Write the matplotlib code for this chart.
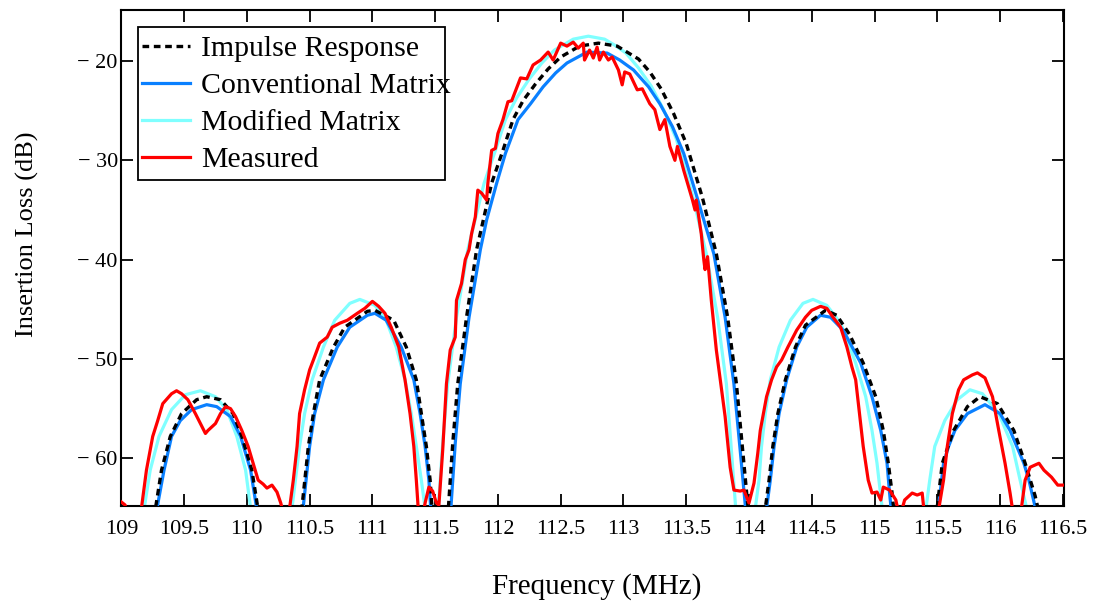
import matplotlib
matplotlib.use("Agg")
import matplotlib.pyplot as plt
from matplotlib.patches import Rectangle

plt.rcParams['font.family'] = ['Liberation Serif', 'DejaVu Serif']

# values; -66 means the trace is below the bottom of the axis
freq_impulse = [109.26, 109.32, 109.39, 109.48, 109.60, 109.68, 109.79, 109.89, 109.96, 110.04, 110.10,
                110.43, 110.49, 110.53, 110.58, 110.69, 110.78, 110.96, 111.02, 111.17, 111.27, 111.35, 111.39, 111.43, 111.46, 111.48,
                111.60, 111.64, 111.68, 111.75, 111.83, 111.95, 112.04, 112.12, 112.20, 112.30, 112.40, 112.50, 112.65, 112.80, 112.95,
                113.12, 113.21, 113.30, 113.40, 113.50, 113.63, 113.74, 113.83, 113.90, 113.95, 114.00,
                114.12, 114.16, 114.19, 114.23, 114.29, 114.37, 114.45, 114.61, 114.70, 114.80, 114.91, 115.01, 115.07, 115.11, 115.14, 115.16,
                115.49, 115.54, 115.63, 115.74, 115.84, 115.98, 116.11, 116.20, 116.28, 116.32]
loss_impulse = [-66, -61.2, -57.8, -55.5, -54.1, -53.8, -54.1, -55.5, -57.8, -61.2, -66,
                -66, -58.8, -55.5, -52.1, -48.8, -46.8, -45.2, -45.1, -46.1, -48.8, -52.1, -55.5, -58.8, -62.2, -66,
                -66, -58.5, -52.5, -45.8, -39.0, -32.3, -29.0, -25.9, -24.0, -22.3, -20.8, -19.6, -18.5, -18.2, -18.5,
                -19.8, -21.1, -22.8, -25.3, -28.3, -33.8, -39.4, -45.8, -52.5, -59.2, -66,
                -66, -62.2, -58.8, -55.5, -52.1, -48.8, -46.6, -45.1, -45.6, -47.5, -50.4, -53.8, -57.2, -60.5, -63.5, -66,
                -66, -60.5, -57.2, -54.8, -53.8, -54.5, -57.2, -60.5, -63.8, -66]

freq_conventional = [109.27, 109.34, 109.40, 109.47, 109.56, 109.68, 109.76, 109.87, 109.95, 110.03, 110.09,
                     110.44, 110.50, 110.54, 110.61, 110.72, 110.82, 110.96, 111.02, 111.11, 111.23, 111.33, 111.38, 111.42, 111.45, 111.47,
                     111.62, 111.66, 111.70, 111.77, 111.86, 111.91, 111.99, 112.06, 112.16, 112.26, 112.36, 112.46, 112.55, 112.71, 112.87,
                     112.97, 113.08, 113.20, 113.29, 113.39, 113.48, 113.60, 113.72, 113.81, 113.88, 113.93, 113.98,
                     114.13, 114.17, 114.20, 114.24, 114.30, 114.38, 114.46, 114.57, 114.65, 114.75, 114.89, 114.98, 115.05, 115.10, 115.12, 115.14,
                     115.50, 115.55, 115.59, 115.64, 115.74, 115.88, 116.00, 116.08, 116.19, 116.23, 116.30]
loss_conventional = [-66, -61.2, -57.8, -56.2, -55.1, -54.6, -54.8, -55.8, -57.8, -61.2, -66,
                     -66, -58.8, -55.5, -52.1, -48.8, -46.8, -45.6, -45.4, -46.1, -48.8, -52.1, -55.5, -58.8, -62.2, -66,
                     -66, -58.5, -52.5, -45.8, -39.0, -36.0, -32.3, -29.3, -25.9, -24.3, -22.6, -21.2, -20.2, -19.1, -19.2,
                     -19.9, -20.9, -22.6, -24.3, -26.6, -29.3, -34.3, -39.4, -45.8, -52.5, -59.2, -66,
                     -66, -62.2, -58.8, -55.5, -52.1, -48.8, -46.8, -45.6, -45.8, -47.1, -50.4, -53.8, -57.2, -60.5, -63.5, -66,
                     -66, -60.5, -58.8, -57.2, -55.5, -54.6, -55.5, -57.2, -60.5, -62.2, -66]

freq_modified = [109.17, 109.23, 109.30, 109.40, 109.51, 109.63, 109.75, 109.84, 109.92, 109.99, 110.04,
                 110.35, 110.42, 110.46, 110.52, 110.61, 110.70, 110.82, 110.90, 111.02, 111.11, 111.19, 111.26, 111.31, 111.35, 111.39, 111.43,
                 111.52, 111.56, 111.60, 111.67, 111.76, 111.89, 111.98, 112.06, 112.15, 112.25, 112.35, 112.45, 112.60, 112.72, 112.85,
                 112.93, 113.02, 113.12, 113.22, 113.32, 113.42, 113.55, 113.66, 113.75, 113.82, 113.86, 113.90,
                 114.04, 114.08, 114.10, 114.13, 114.17, 114.24, 114.33, 114.43, 114.51, 114.62, 114.73, 114.85, 114.93, 114.98, 115.02, 115.07,
                 115.40, 115.44, 115.48, 115.56, 115.66, 115.76, 115.86, 115.99, 116.10, 116.16, 116.23]
loss_modified = [-66, -61.2, -57.8, -55.1, -53.6, -53.2, -53.8, -55.1, -57.8, -61.2, -66,
                 -66, -58.8, -55.5, -52.1, -48.8, -46.1, -44.4, -44.0, -44.6, -46.1, -48.8, -52.1, -55.5, -58.8, -62.2, -66,
                 -66, -58.5, -52.5, -45.8, -39.0, -32.3, -29.0, -25.9, -23.7, -21.8, -20.2, -18.9, -17.8, -17.5, -17.8,
                 -18.4, -19.2, -20.7, -22.5, -24.9, -27.8, -33.5, -39.4, -45.8, -52.5, -59.2, -66,
                 -66, -62.2, -58.8, -55.5, -52.1, -48.8, -46.1, -44.4, -44.0, -44.6, -46.4, -50.4, -53.8, -57.2, -60.5, -66,
                 -66, -62.2, -58.8, -56.2, -54.1, -53.1, -53.5, -55.5, -58.8, -62.2, -66]

freq_measured = [109.00, 109.03, 109.05, 109.15, 109.20, 109.25, 109.29, 109.33, 109.40, 109.44, 109.48, 109.53, 109.59,
                 109.63, 109.67, 109.69, 109.75, 109.79, 109.83, 109.87, 109.91, 109.96, 110.01, 110.05, 110.09, 110.13,
                 110.16, 110.20, 110.24, 110.27, 110.30, 110.33, 110.37, 110.40, 110.42, 110.46, 110.50, 110.53, 110.58,
                 110.64, 110.68, 110.74, 110.80, 110.88, 110.94, 111.00, 111.05, 111.10, 111.15, 111.21, 111.26, 111.30,
                 111.33, 111.35, 111.37, 111.40, 111.42, 111.45, 111.48, 111.51, 111.53, 111.56, 111.59, 111.62, 111.66,
                 111.67, 111.71, 111.74, 111.77, 111.79, 111.82, 111.84, 111.87, 111.91, 111.92, 111.95, 111.98, 112.00,
                 112.04, 112.08, 112.11, 112.18, 112.23, 112.28, 112.34, 112.40, 112.44, 112.50, 112.55, 112.60, 112.64,
                 112.68, 112.69, 112.73, 112.76, 112.79, 112.81, 112.84, 112.88, 112.91, 112.96, 112.99, 113.01, 113.05,
                 113.11, 113.15, 113.21, 113.25, 113.29, 113.33, 113.37, 113.41, 113.43, 113.48, 113.55, 113.57, 113.58,
                 113.62, 113.64, 113.65, 113.67, 113.70, 113.74, 113.81, 113.85, 113.88, 113.93, 113.96, 114.00, 114.04,
                 114.07, 114.09, 114.14, 114.18, 114.22, 114.26, 114.31, 114.38, 114.45, 114.50, 114.57, 114.62, 114.67,
                 114.73, 114.78, 114.82, 114.85, 114.88, 114.91, 114.95, 114.98, 115.02, 115.05, 115.07, 115.12, 115.17,
                 115.20, 115.24, 115.30, 115.34, 115.38, 115.40, 115.50, 115.55, 115.58, 115.62, 115.67, 115.71, 115.78,
                 115.82, 115.88, 115.94, 115.99, 116.04, 116.08, 116.11, 116.16, 116.20, 116.24, 116.31, 116.35, 116.41,
                 116.46, 116.51]
loss_measured = [-64.4, -64.7, -66, -66, -61.2, -57.8, -56.2, -54.5, -53.5, -53.2, -53.5, -54.1, -55.5,
                 -56.5, -57.5, -57.2, -56.5, -55.5, -54.8, -55.0, -55.8, -57.2, -58.8, -60.5, -62.2, -62.6,
                 -63.0, -62.7, -63.4, -64.5, -66, -66, -62.2, -58.8, -55.5, -53.1, -51.1, -50.1, -48.4,
                 -47.8, -46.8, -46.4, -46.1, -45.4, -44.9, -44.2, -44.7, -45.4, -46.8, -48.8, -52.1, -55.5,
                 -58.8, -62.2, -66, -66, -64.5, -62.9, -63.3, -64.5, -64.7, -59.2, -52.5, -49.1, -47.8,
                 -44.1, -42.4, -40.0, -39.0, -37.4, -35.7, -33.0, -33.3, -34.0, -32.3, -29.0, -28.8, -27.3,
                 -25.9, -24.1, -24.0, -21.7, -21.8, -20.4, -19.9, -19.1, -19.9, -18.2, -18.5, -18.1, -18.7,
                 -18.2, -19.9, -18.9, -19.7, -18.6, -19.9, -19.1, -19.9, -19.6, -20.9, -22.4, -21.1, -21.3,
                 -22.9, -22.8, -24.3, -24.9, -26.9, -25.9, -28.6, -30.0, -28.6, -31.0, -34.0, -35.0, -34.0,
                 -37.4, -40.0, -41.0, -39.7, -44.1, -49.1, -55.8, -60.9, -63.2, -63.3, -63.2, -64.5, -62.5,
                 -59.5, -57.2, -53.8, -52.1, -50.8, -50.1, -48.8, -47.1, -45.8, -45.1, -44.7, -44.9, -45.8,
                 -46.8, -48.8, -50.8, -52.1, -55.5, -58.8, -62.2, -63.5, -63.4, -64.2, -62.9, -63.2, -64.2,
                 -66, -64.2, -63.5, -63.7, -63.5, -66, -66, -62.2, -58.8, -55.5, -53.1, -52.1, -51.6,
                 -51.4, -51.9, -53.8, -57.2, -60.5, -63.5, -66, -66, -62.2, -60.9, -60.5, -61.2, -61.9,
                 -62.7, -62.7]

x_ticks = [109, 109.5, 110, 110.5, 111, 111.5, 112, 112.5, 113, 113.5, 114, 114.5, 115, 115.5, 116, 116.5]
x_tick_labels = ["109", "109.5", "110", "110.5", "111", "111.5", "112", "112.5", "113", "113.5",
                 "114", "114.5", "115", "115.5", "116", "116.5"]
y_ticks = [-60, -50, -40, -30, -20]
y_tick_labels = ["\u2212 60", "\u2212 50", "\u2212 40", "\u2212 30", "\u2212 20"]


def main():
    fig = plt.figure(figsize=(10.99, 6.04), dpi=100)
    ax = fig.add_axes([0.1104, 0.1623, 0.8578, 0.8212])

    ax.plot(freq_modified, loss_modified, color="#80ffff", lw=2.3, zorder=2, label="Modified Matrix")
    ax.plot(freq_conventional, loss_conventional, color="#0a80ff", lw=2.3, zorder=3, label="Conventional Matrix")
    ax.plot(freq_impulse, loss_impulse, color="black", lw=2.4, ls=(0, (2.0, 1.4)), zorder=4, label="Impulse Response")
    ax.plot(freq_measured, loss_measured, color="#ff0000", lw=2.3, zorder=5, label="Measured")

    ax.set_xlim(109, 116.51)
    ax.set_ylim(-64.8, -14.86)
    ax.set_xticks(x_ticks)
    ax.set_xticklabels(x_tick_labels)
    ax.set_yticks(y_ticks)
    ax.set_yticklabels(y_tick_labels)
    ax.tick_params(direction="in", length=8.5, width=1.3, top=True, right=True, labelsize=16)
    ax.tick_params(axis="x", pad=10)
    ax.tick_params(axis="y", pad=2.5)
    for s in ax.spines.values():
        s.set_linewidth(1.5)

    ax.set_xlabel("Frequency (MHz)", fontsize=21)
    ax.xaxis.label.set_va("center")
    ax.xaxis.set_label_coords(0.504, -0.163)
    ax.set_ylabel("Insertion Loss (dB)", fontsize=19)
    ax.yaxis.label.set_va("center")
    ax.yaxis.set_label_coords(-0.100, 0.548)

    # legend order as in the original; box drawn by hand (text runs past it there)
    h, l = ax.get_legend_handles_labels()
    order = [2, 1, 0, 3]
    ax.legend([h[i] for i in order], [l[i] for i in order], loc="upper left",
              bbox_to_anchor=(0.0177, 0.9577), borderaxespad=0, fontsize=21.5,
              frameon=False, handlelength=1.6, handletextpad=0.35, borderpad=0.15,
              labelspacing=0.34)
    ax.add_patch(Rectangle((0.0177, 0.657), 0.3257, 0.3087, transform=ax.transAxes,
                           fill=False, edgecolor="black", lw=1.3, zorder=6))

    fig.savefig("out.png", dpi=100)


main()
